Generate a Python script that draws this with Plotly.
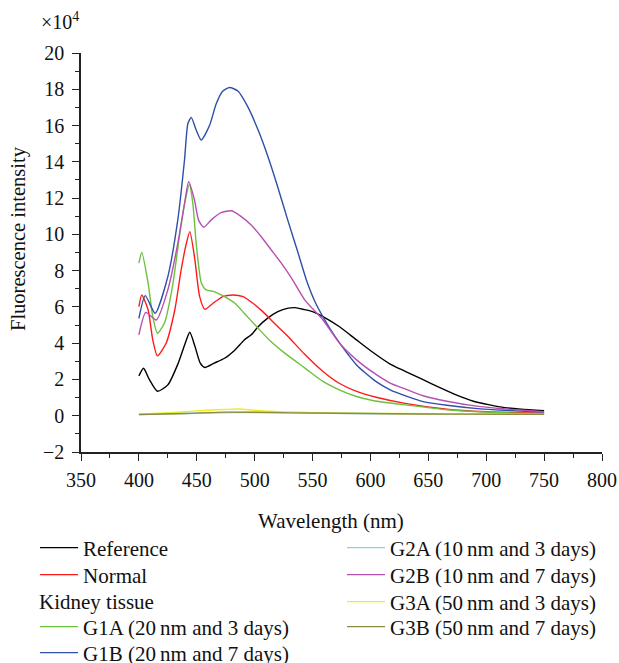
import plotly.graph_objects as go

# ---- data (intensity in units of 10^4) ----
ref_nm = [400, 404, 409, 416, 425, 434, 441, 444, 448.5, 453, 457, 465, 474, 483, 491, 497, 503, 511, 520, 529, 535, 543, 550, 559, 573, 588, 602, 617, 630, 645, 660, 674, 689, 703, 716, 730, 750]
ref_val = [2.2, 2.62, 2.0, 1.35, 1.7, 2.9, 4.18, 4.6, 3.81, 2.9, 2.66, 2.9, 3.17, 3.63, 4.18, 4.46, 4.91, 5.37, 5.74, 5.93, 5.96, 5.85, 5.74, 5.47, 4.92, 4.18, 3.5, 2.85, 2.45, 2.0, 1.55, 1.15, 0.8, 0.6, 0.45, 0.36, 0.28]

nor_nm = [400, 402.5, 408, 412, 416, 423.5, 431, 436.5, 441, 444, 448, 452.5, 457, 464, 472.5, 481, 490, 498.5, 507, 517, 529, 543, 559, 573, 588, 605, 630, 666, 700, 750]
nor_val = [6.02, 6.66, 5.83, 4.18, 3.3, 4.0, 5.83, 8.04, 9.5, 10.15, 8.77, 6.57, 5.87, 6.2, 6.57, 6.66, 6.57, 6.2, 5.74, 5.1, 4.36, 3.4, 2.44, 1.79, 1.34, 1.02, 0.68, 0.36, 0.22, 0.14]

g1a_nm = [400, 402.5, 408, 412, 416, 422, 429, 435, 439.5, 443.7, 446.6, 449.5, 454, 458, 465, 474, 483, 491, 503, 514, 526, 544, 559, 573, 588, 602, 617, 630, 666, 700, 750]
g1a_val = [8.41, 9.0, 7.3, 5.47, 4.55, 5.1, 7.12, 9.88, 11.7, 12.75, 11.7, 9.5, 7.3, 6.94, 6.84, 6.57, 6.2, 5.65, 4.82, 4.09, 3.45, 2.6, 1.89, 1.43, 1.06, 0.84, 0.7, 0.6, 0.33, 0.2, 0.1]

g1b_nm = [400, 405.5, 414, 425, 433.6, 439.4, 442.3, 445.2, 449.5, 453.8, 461, 466.8, 472.5, 478.3, 485.5, 494, 503, 511.5, 520, 529, 537.4, 544.6, 552, 559, 566, 573.4, 588, 604, 617, 631, 645.5, 666, 695, 716, 750]
g1b_val = [5.37, 6.62, 5.65, 7.67, 10.8, 14.1, 16.1, 16.45, 15.75, 15.2, 16.0, 17.2, 17.9, 18.1, 17.9, 17.04, 15.75, 14.28, 12.6, 10.7, 9.0, 7.5, 6.3, 5.45, 4.7, 4.0, 2.8, 1.92, 1.43, 1.08, 0.78, 0.58, 0.38, 0.3, 0.2]

g2a_nm = [400, 440, 480, 520, 560, 620, 680, 750]
g2a_val = [0.07, 0.12, 0.18, 0.17, 0.14, 0.11, 0.09, 0.08]

g2b_nm = [400, 406, 415, 425, 433.6, 439.4, 443, 448, 451.5, 456, 462.5, 471, 480, 488.4, 497, 505.7, 514.4, 523, 531.7, 543.2, 559, 573.4, 588, 602, 617, 631, 645.5, 666, 695, 716, 750]
g2b_val = [4.46, 5.7, 5.28, 6.94, 9.5, 11.7, 12.9, 11.9, 10.8, 10.39, 10.8, 11.2, 11.3, 10.98, 10.52, 9.87, 9.14, 8.41, 7.6, 6.39, 5.28, 4.0, 3.08, 2.4, 1.8, 1.45, 1.1, 0.8, 0.5, 0.38, 0.22]

g3a_nm = [400, 430, 450, 465, 478, 487, 500, 517, 540, 560, 600, 650, 700, 750]
g3a_val = [0.09, 0.18, 0.27, 0.33, 0.35, 0.37, 0.3, 0.24, 0.19, 0.15, 0.13, 0.11, 0.1, 0.09]

g3b_nm = [400, 440, 474, 500, 531, 570, 618, 680, 750]
g3b_val = [0.07, 0.12, 0.2, 0.19, 0.16, 0.14, 0.11, 0.09, 0.08]

group_label = "Kidney tissue"

FONT = "Liberation Serif"
TXT = "#111111"
LEG_FONT = 21

# (name, x, y, colour, legend id, legend left px, legend row centre px)
series = [
    ("Reference", ref_nm, ref_val, "#000000", "legend", 35, 548),
    ("Normal", nor_nm, nor_val, "#ff1a1a", "legend2", 35, 575),
    ("G1A (20\u2009nm and 3 days)", g1a_nm, g1a_val, "#6cc13c", "legend3", 35, 627),
    ("G1B (20\u2009nm and 7 days)", g1b_nm, g1b_val, "#2f4fa8", "legend4", 35, 653),
    ("G2A (10\u2009nm and 3 days)", g2a_nm, g2a_val, "#86d2e2", "legend5", 342, 548),
    ("G2B (10\u2009nm and 7 days)", g2b_nm, g2b_val, "#b450b0", "legend6", 342, 575),
    ("G3A (50\u2009nm and 3 days)", g3a_nm, g3a_val, "#eeee22", "legend7", 342, 602),
    ("G3B (50\u2009nm and 7 days)", g3b_nm, g3b_val, "#8c8c44", "legend8", 342, 627),
]

W, H = 619, 663
fig = go.Figure()
legends = {}
for name, x, y, color, leg, lx, ly in series:
    fig.add_trace(go.Scatter(
        x=x, y=y, name=name, mode="lines", showlegend=True,
        line=dict(color=color, width=1.4, shape="spline", smoothing=0.6),
        legend=leg))
    legends[leg] = dict(xref="container", yref="container", x=lx / W, y=1 - ly / H,
                        xanchor="left", yanchor="middle", bgcolor="rgba(0,0,0,0)",
                        itemwidth=38, borderwidth=0, visible=True,
                        font=dict(family=FONT, size=LEG_FONT, color=TXT))

axis_common = dict(
    showline=True, linecolor="#222", linewidth=1.5,
    ticks="outside", ticklen=7, tickwidth=1.3, tickcolor="#222",
    showgrid=False, zeroline=False, automargin=False,
    tickfont=dict(family=FONT, size=20, color=TXT),
)

# plot area: x 81..602 px, y 53..452 px
PL, PR, PT, PB = 81, 602, 53, 452
def px(xp):
    return (xp - PL) / (PR - PL)
def py(yp):
    return (PB - yp) / (PB - PT)

fig.update_layout(
    width=W, height=H, showlegend=True,
    margin=dict(l=PL, r=W - PR, t=PT, b=H - PB, autoexpand=False),
    paper_bgcolor="white", plot_bgcolor="white",
    font=dict(family=FONT, size=20, color=TXT),
    xaxis=dict(range=[350, 800], dtick=50, tick0=350, ticklabelstandoff=2,
               minor=dict(dtick=25, ticklen=4, ticks="outside", tickcolor="#222", tickwidth=1.2),
               **axis_common),
    yaxis=dict(range=[-2, 20], dtick=2, tick0=0, ticklabelstandoff=4,
               minor=dict(dtick=1, ticklen=4, ticks="outside", tickcolor="#222", tickwidth=1.2),
               **axis_common),
    annotations=[
        dict(text="\u00d710<sup>4</sup>", xref="paper", yref="paper",
             x=px(81), y=py(21), xanchor="right", yanchor="middle",
             showarrow=False, font=dict(family=FONT, size=20, color=TXT)),
        dict(text="Fluorescence intensity", xref="paper", yref="paper",
             x=px(18), y=py(239), xanchor="center", yanchor="middle", textangle=-90,
             showarrow=False, font=dict(family=FONT, size=20.5, color=TXT)),
        dict(text="Wavelength (nm)", xref="paper", yref="paper",
             x=px(331), y=py(521), xanchor="center", yanchor="middle",
             showarrow=False, font=dict(family=FONT, size=21, color=TXT)),
        dict(text=group_label, xref="paper", yref="paper",
             x=px(37), y=py(602), xanchor="left", yanchor="middle",
             showarrow=False, font=dict(family=FONT, size=LEG_FONT, color=TXT)),
    ],
)
fig.update_layout(**legends)

fig.write_html("out.html", config={"displayModeBar": False},
               post_script="document.body.style.margin='0';document.body.style.overflow='hidden';")
